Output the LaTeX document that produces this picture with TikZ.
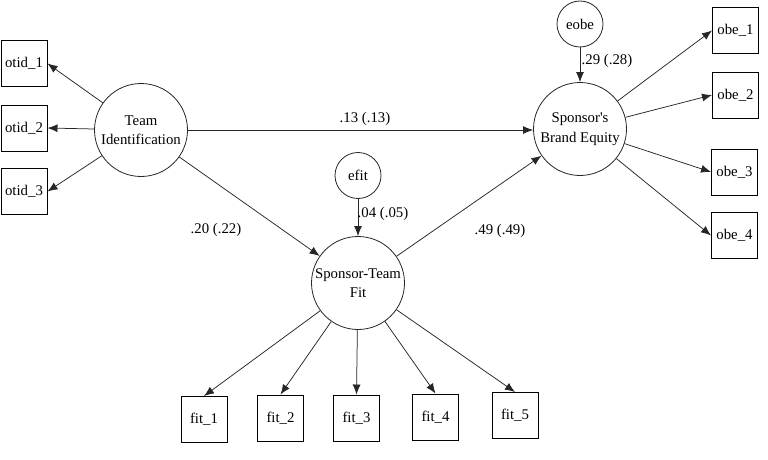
\documentclass[tikz,border=0pt]{standalone}
\usepackage{fontspec}
\setmainfont{Liberation Serif}
\usetikzlibrary{arrows.meta}
\begin{document}
\begin{tikzpicture}[x=1pt,y=-1pt,
  font=\fontsize{14.8}{19.5}\selectfont,
  latent/.style={circle,draw=black!85,line width=0.8pt,minimum size=93pt,inner sep=0pt,align=center},
  errnode/.style={circle,draw=black!85,line width=0.8pt,minimum size=46pt,inner sep=0pt},
  obsbox/.style={rectangle,draw=black,line width=0.95pt,minimum width=46pt,minimum height=46pt,inner sep=0pt},
  path/.style={draw=black!85,line width=0.75pt,-{Latex[length=10pt,width=8pt]}},
  coef/.style={inner sep=0pt}]
\useasboundingbox (0,0) rectangle (768,460);
% latent variables
\node[latent] (ti) at (141,130) {Team\\Identification};
\node[latent] (sbe) at (580,129) {Sponsor\textquotesingle s\\Brand Equity};
\node[latent] (stf) at (358,283) {Sponsor-Team\\Fit};
% errors
\node[errnode] (eobe) at (580,24) {eobe};
\node[errnode] (efit) at (358,175.5) {efit};
% indicators
\node[obsbox] (otid1) at (24,63.5) {otid\_1};
\node[obsbox] (otid2) at (24,128) {otid\_2};
\node[obsbox] (otid3) at (24,191.5) {otid\_3};
\node[obsbox] (obe1) at (735.5,30.5) {obe\_1};
\node[obsbox] (obe2) at (735.5,95) {obe\_2};
\node[obsbox] (obe3) at (734.5,172) {obe\_3};
\node[obsbox] (obe4) at (734.5,235.5) {obe\_4};
\node[obsbox] (fit1) at (204,419.5) {fit\_1};
\node[obsbox] (fit2) at (280.5,418) {fit\_2};
\node[obsbox] (fit3) at (356.5,418) {fit\_3};
\node[obsbox] (fit4) at (435.5,417) {fit\_4};
\node[obsbox] (fit5) at (515,415.5) {fit\_5};
% measurement paths
\draw[path] (ti) -- (otid1.east);
\draw[path] (ti) -- (otid2.east);
\draw[path] (ti) -- (otid3.east);
\draw[path] (sbe) -- (obe1.west);
\draw[path] (sbe) -- (obe2.west);
\draw[path] (sbe) -- (obe3.west);
\draw[path] (sbe) -- (obe4.west);
\draw[path] (stf) -- (fit1.north);
\draw[path] (stf) -- (fit2.north);
\draw[path] (stf) -- (fit3.north);
\draw[path] (stf) -- (fit4.north);
\draw[path] (stf) -- (fit5.north);
% structural paths
\draw[path] (ti.east |- 0,130) -- (sbe.west |- 0,130);
\draw[path] (ti) -- (stf);
\draw[path] (stf) -- (sbe);
\draw[path] (efit) -- (stf);
\draw[path] (eobe) -- (sbe);
% coefficients
\node[coef] (c13) at (365,119) {.13 (.13)};
\node[coef] (c20) at (216,230) {.20 (.22)};
\node[coef] (c04) at (383,214) {.04 (.05)};
\node[coef] (c49) at (500,231) {.49 (.49)};
\node[coef] (c29) at (607,61) {.29 (.28)};
\end{tikzpicture}
\end{document}
